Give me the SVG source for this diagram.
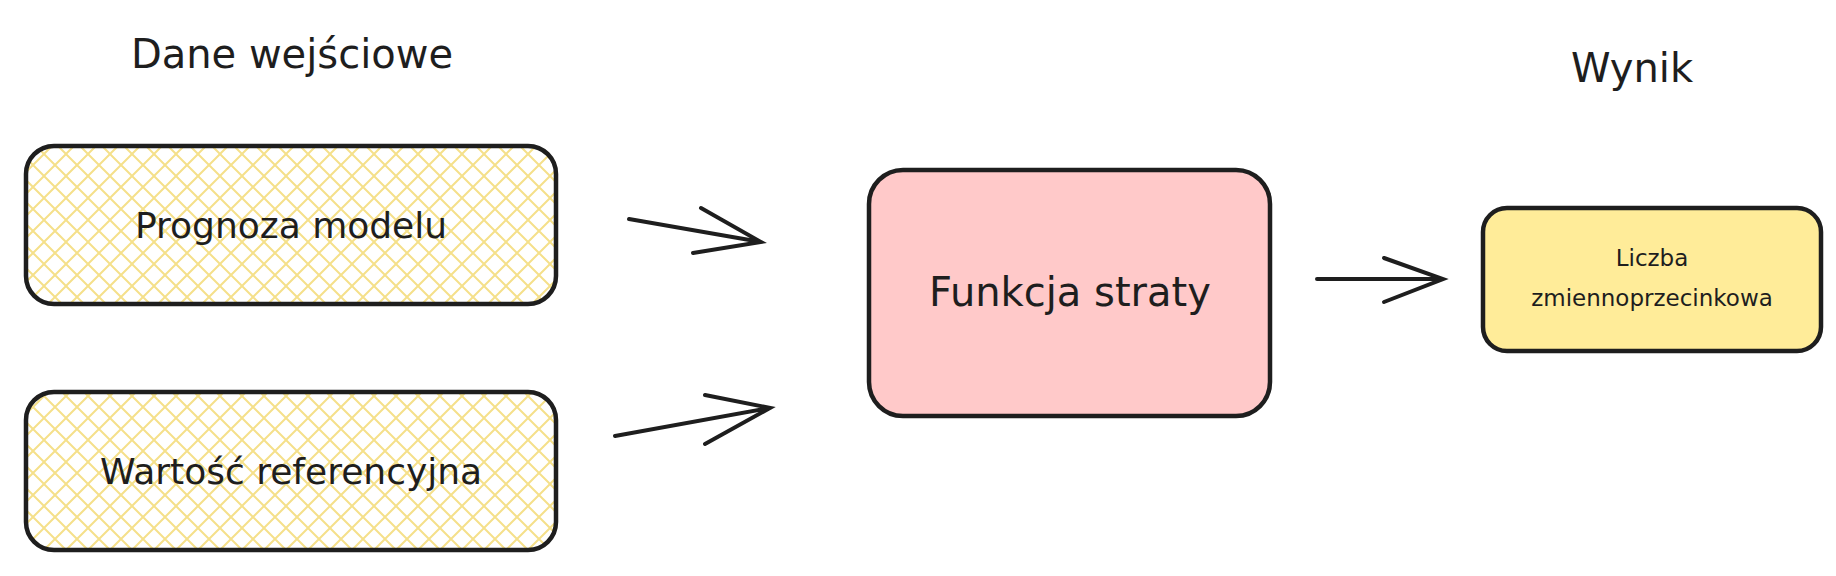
<svg xmlns="http://www.w3.org/2000/svg" width="1836" height="576" viewBox="0 0 1836 576">
<style>
.box{stroke:#1e1e1e;stroke-width:4.5;}
.t{font-family:"DejaVu Sans",sans-serif;fill:#1e1e1e;text-anchor:middle;}
.c{stroke:#1e1e1e;stroke-width:4;fill:none;stroke-linecap:round;}
</style>
<defs>
<pattern id="hatch" width="22" height="22" patternUnits="userSpaceOnUse">
<path d="M0 0L22 22M22 0L0 22" stroke="#f5e08a" stroke-width="2"/>
</pattern>
<marker id="ah" markerWidth="14" markerHeight="14" refX="13" refY="7" orient="auto" markerUnits="userSpaceOnUse" viewBox="0 0 14 14">
</marker>
</defs>
<rect width="1836" height="576" fill="#ffffff"/>
<text class="t" x="292" y="68" font-size="40">Dane wejściowe</text>
<text class="t" x="1632" y="82" font-size="40">Wynik</text>
<g id="n1"><rect class="box" x="26" y="146" width="530" height="158" rx="28" fill="url(#hatch)"/>
<text class="t" x="291" y="238" font-size="36">Prognoza modelu</text></g>
<g id="n2"><rect class="box" x="26" y="392" width="530" height="158" rx="28" fill="url(#hatch)"/>
<text class="t" x="291" y="484" font-size="36">Wartość referencyjna</text></g>
<g id="n3"><rect class="box" x="869" y="170" width="401" height="246" rx="34" fill="#ffc9c9"/>
<text class="t" x="1070" y="306" font-size="40">Funkcja straty</text></g>
<g id="n4"><rect class="box" x="1483" y="208" width="338" height="143" rx="24" fill="#ffec99"/>
<text class="t" x="1652" y="266" font-size="23">Liczba</text>
<text class="t" x="1652" y="306" font-size="23">zmiennoprzecinkowa</text></g>
<g id="connectors">
<path class="c" d="M629 219L761 242M701 208L761 242L693 253"/>
<path class="c" d="M615 436L770 408M705 395L770 408L705 444"/>
<path class="c" d="M1317 279L1443 279M1384 258L1443 279L1384 302"/>
</g>
</svg>
